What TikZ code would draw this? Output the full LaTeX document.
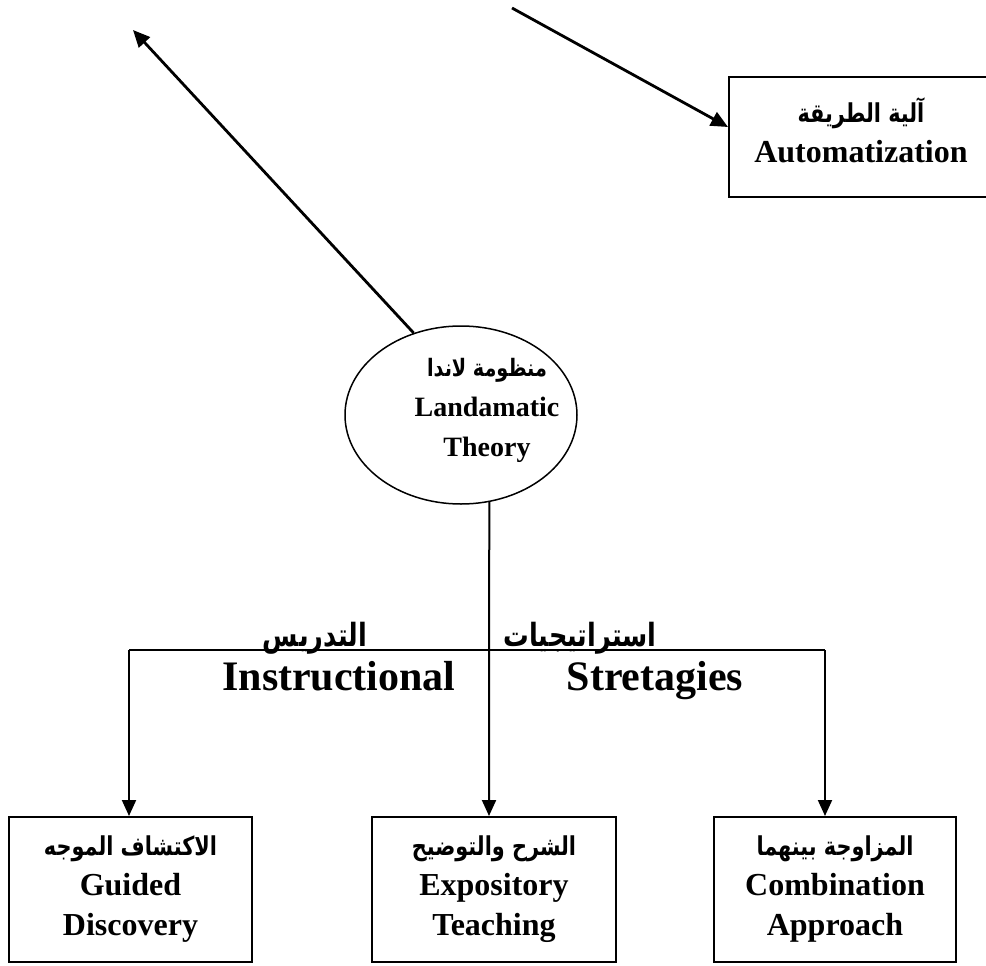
\documentclass[tikz,border=0pt]{standalone}
\usepackage{graphicx}
\usepackage{fontspec}
\setmainfont{Liberation Serif}
\newfontfamily\arabicfont[Script=Arabic]{DejaVu Sans}
\TeXXeTstate=1
\usetikzlibrary{arrows.meta,shapes.geometric}

% bold Arabic line, narrowed to the width of a compact Arabic face
\newcommand{\ar}[2][26]{\scalebox{0.8}[1]{\arabicfont\bfseries\fontsize{#1}{40}\selectfont\beginR #2\endR}}

\tikzset{
  boxstyle/.style={draw, line width=2pt, rectangle, inner sep=0pt},
  txt/.style={font=\bfseries\fontsize{32}{40}\selectfont, align=center, inner sep=0pt},
  smalltxt/.style={font=\bfseries\fontsize{28}{40}\selectfont, align=center, inner sep=0pt},
  bigtxt/.style={font=\bfseries\fontsize{42}{48}\selectfont, inner sep=0pt},
  link/.style={line width=2pt},
  arrowlink/.style={line width=2pt, -{Triangle[length=16pt,width=14pt]}},
  toparrow/.style={line width=2.8pt, -{Triangle[length=17pt,width=15pt]}},
}

\begin{document}
\begin{tikzpicture}[x=1pt,y=-1pt]
  \useasboundingbox (0,0) rectangle (986,966);
  \fill[white] (0,0) rectangle (986,966);

  % central ellipse
  \node[draw, ellipse, line width=1.5pt, minimum width=232pt, minimum height=178pt, inner sep=0pt] (ell) at (461,415) {};
  \node[smalltxt] (elltext) at (487,410) {\ar[24]{منظومة لاندا}\\ Landamatic\\ Theory};

  % automatization box (runs off the right edge)
  \node[boxstyle, minimum width=264pt, minimum height=120pt] (auto) at (861,137) {};
  \node[txt] (autotext) at (861,130) {\ar{آلية الطريقة}\\ Automatization};

  % bottom boxes
  \node[boxstyle, minimum width=243pt, minimum height=145pt] (guided) at (130.5,889.5) {};
  \node[boxstyle, minimum width=244pt, minimum height=145pt] (expo) at (494,889.5) {};
  \node[boxstyle, minimum width=242pt, minimum height=145pt] (comb) at (835,889.5) {};
  \node[txt] (guidedtext) at (guided) {\ar{الاكتشاف الموجه}\\ Guided\\ Discovery};
  \node[txt] (expotext) at (expo) {\ar{الشرح والتوضيح}\\ Expository\\ Teaching};
  \node[txt] (combtext) at (comb) {\ar{المزاوجة بينهما}\\ Combination\\ Approach};

  % top arrows
  \coordinate (tipL) at (133,30);
  \coordinate (startR) at (512,8);
  \draw[toparrow] (ell.120) -- (tipL);
  \draw[toparrow] (startR) -- ([yshift=10pt]auto.west);

  % branching tree
  \coordinate (hl) at (129,650);
  \coordinate (hr) at (825,650);
  \coordinate (hm) at (489,650);
  \draw[link] (hl) -- (hr);
  \draw[arrowlink] (hl) -- (hl |- guided.north);
  \draw[arrowlink] (hr) -- (hr |- comb.north);
  \draw[arrowlink] (ell.-72) -- (hm |- expo.north);

  % labels on the tree
  \node[anchor=base, inner sep=0pt] (lblA) at (580,646) {\ar[32]{استراتيجيات}};
  \node[anchor=base, inner sep=0pt] (lblB) at (315,646) {\ar[32]{التدريس}};
  \node[bigtxt, anchor=base] (lblC) at (339,690) {Instructional};
  \node[bigtxt, anchor=base] (lblD) at (655,690) {Stretagies};
\end{tikzpicture}
\end{document}
